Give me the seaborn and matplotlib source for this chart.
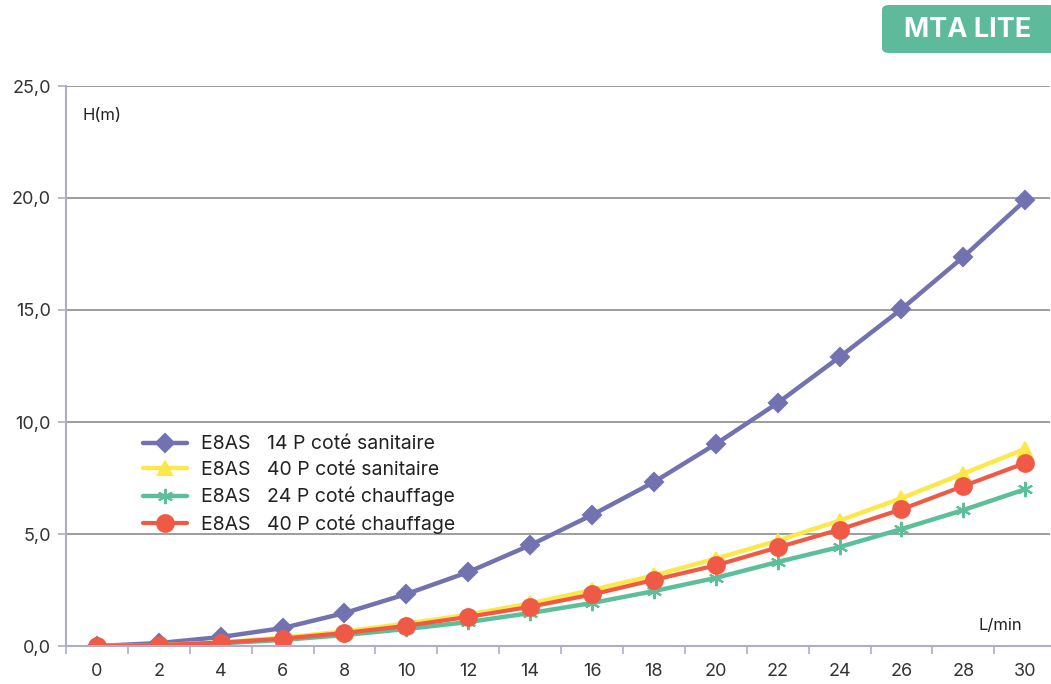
import pandas as pd
import numpy as np
import matplotlib.pyplot as plt
import seaborn as sns
from matplotlib.patches import FancyBboxPatch
from matplotlib.ticker import FixedLocator

sns.set_theme(style="white")
plt.rcParams['font.family'] = ['Inter', 'DejaVu Sans']

# debit (L/min)
debit = [0, 2, 4, 6, 8, 10, 12, 14, 16, 18, 20, 22, 24, 26, 28, 30]
hauteurs = [0, 5, 10, 15, 20, 25]

# hauteur (m) par modele
h_14p_sani = [0.0, 0.13, 0.4, 0.8, 1.47, 2.32, 3.3, 4.5, 5.85, 7.32, 9.02, 10.85, 12.9, 15.04, 17.37, 19.9]
h_40p_sani = [0.0, 0.04, 0.16, 0.37, 0.65, 1.0, 1.4, 1.9, 2.5, 3.15, 3.9, 4.7, 5.6, 6.6, 7.7, 8.8]
h_24p_chauf = [0.0, 0.03, 0.12, 0.27, 0.49, 0.76, 1.07, 1.47, 1.92, 2.45, 3.04, 3.75, 4.42, 5.22, 6.07, 7.0]
h_40p_chauf = [0.0, 0.04, 0.15, 0.33, 0.58, 0.9, 1.3, 1.75, 2.3, 2.95, 3.6, 4.4, 5.2, 6.1, 7.14, 8.17]

series = ["E8AS   14 P coté sanitaire", "E8AS   40 P coté sanitaire",
          "E8AS   24 P coté chauffage", "E8AS   40 P coté chauffage"]
colors = ["#7272b0", "#fde84a", "#5dbf9a", "#ee5a45"]
markers = ["D", "^", (6, 2, 0), "o"]
msizes = [9, 10, 11, 12]
lwidths = [3.2, 3.2, 3.2, 3.0]

df = pd.DataFrame({
    "debit": debit * 4,
    "h": h_14p_sani + h_40p_sani + h_24p_chauf + h_40p_chauf,
    "serie": np.repeat(series, len(debit)),
})

fig = plt.figure(figsize=(10.51, 6.84), dpi=100)
ax = fig.add_axes([66 / 1051, 38 / 684, 984 / 1051, 560 / 684])

for name, c, m, ms, lw in zip(series, colors, markers, msizes, lwidths):
    sns.lineplot(data=df[df.serie == name], x="debit", y="h", ax=ax, color=c,
                 marker=m, markersize=ms, markeredgecolor=c, markeredgewidth=1.5,
                 linewidth=lw, label=name)

ax.set_xlim(-1, 30.8)
ax.set_ylim(0, 25)
ax.set_xlabel("")
ax.set_ylabel("")

ax.xaxis.set_major_locator(FixedLocator(debit))
ax.xaxis.set_minor_locator(FixedLocator(np.arange(-1, 32, 2)))
ax.set_xticklabels([str(d) for d in debit])
ax.tick_params(axis="x", which="major", length=0, pad=12, labelsize=13, labelcolor="#333333")
ax.tick_params(axis="x", which="minor", length=6, width=1.2, color="#aeadcc", bottom=True)

ax.yaxis.set_major_locator(FixedLocator(hauteurs))
ax.set_yticklabels([f"{v:.1f}".replace(".", ",") for v in hauteurs])
ax.tick_params(axis="y", length=6, width=1.2, color="#aeadcc", left=True, pad=5,
               labelsize=13, labelcolor="#333333")

ax.grid(axis="y", color="#8c8c8c", linewidth=1.2)
ax.grid(axis="x", visible=False)
for s in ["top", "right"]:
    ax.spines[s].set_visible(False)
for s in ["left", "bottom"]:
    ax.spines[s].set_color("#aeadcc")
    ax.spines[s].set_linewidth(1.5)
ax.set_axisbelow(True)

ax.text(82, 684 - 115, "H(m)", transform=None, fontsize=12, color="#222222", va="center")
ax.text(1022, 684 - 626, "L/min", transform=None, fontsize=12, color="#222222", va="center", ha="right")

leg = ax.legend(loc="upper left", bbox_to_anchor=(0.07, 0.39), frameon=False,
                fontsize=14, handlelength=2.3, labelspacing=0.4, handletextpad=0.7,
                borderaxespad=0)
for t in leg.get_texts():
    t.set_color("#222222")

badge = FancyBboxPatch((882 / 1051, 631 / 684), 175 / 1051, 48 / 684,
                       boxstyle="round,pad=0,rounding_size=0.007",
                       transform=fig.transFigure, facecolor="#5dba9a", edgecolor="none")
fig.patches.append(badge)
fig.text(968 / 1051, 654 / 684, "MTA LITE", color="white", fontsize=19.5, fontweight="bold",
         ha="center", va="center")

fig.savefig("out.png", dpi=100)
